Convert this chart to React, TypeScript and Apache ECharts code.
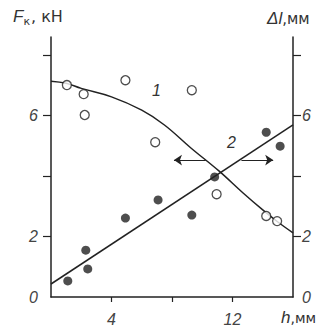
import React, { useEffect, useRef } from "react";
import * as echarts from "echarts";

// Series 1: open circles, F_k (kN) vs h (mm)
const xOpen = [1.05, 2.16, 2.23, 4.92, 6.89, 9.31, 10.95, 14.23, 14.95];
const fOpen = [7.01, 6.71, 6.02, 7.17, 5.12, 6.84, 3.4, 2.68, 2.51];
// Series 2: filled circles, Δl (mm) vs h (mm)
const xFilled = [1.11, 2.3, 2.43, 4.92, 7.08, 9.31, 10.82, 14.23, 15.15];
const dlFilled = [0.53, 1.55, 0.93, 2.61, 3.21, 2.71, 3.97, 5.45, 4.99];
// Curve 1 (fit)
const curveX = [0, 1, 2, 4, 6, 7.5, 9.25, 11.1, 12.7, 14, 15, 16];
const curveF = [7.14, 7.07, 6.9, 6.62, 6.18, 5.69, 4.93, 4.17, 3.44, 2.88, 2.48, 2.12];
// Line 2 (fit)
const lineX = [0, 16];
const lineDl = [0.43, 5.69];
// Arrows
const arrowLeft = [[10.23, 4.53], [8.13, 4.53]];
const arrowRight = [[12.59, 4.53], [14.69, 4.53]];
// Ticks and labels
const yTicks = [2, 4, 6, 8];
const yLabels = [0, 2, 6];
const xTicks = [4, 8, 12];
const xLabels = [4, 12];

const ink = "#222";
const labelColor = "#444";

export default function App() {
  const ref = useRef<HTMLDivElement>(null);
  useEffect(() => {
    if (!ref.current) return;
    const chart = echarts.init(ref.current, undefined, { renderer: "svg" });
    const numLabel = {
      fontFamily: "Liberation Sans",
      fontStyle: "italic" as const,
      fontSize: 16,
      color: labelColor,
    };
    const yAxisBase = (pos: "left" | "right") => ({
      type: "value" as const,
      position: pos,
      min: 0,
      max: 8.6,
      interval: 2,
      splitLine: { show: false },
      axisLine: { show: true, onZero: false, lineStyle: { color: ink, width: 1.5 } },
      axisTick: { show: true, customValues: yTicks, length: 8, lineStyle: { color: ink, width: 1.2 } },
      axisLabel: { ...numLabel, customValues: yLabels, margin: pos === "left" ? 13 : 9 },
    });
    chart.setOption({
      animation: false,
      backgroundColor: "#fff",
      grid: { left: 51, right: 38, top: 37, bottom: 31 },
      xAxis: {
        type: "value",
        min: 0,
        max: 16,
        interval: 4,
        splitLine: { show: false },
        axisLine: { show: true, lineStyle: { color: ink, width: 1.5 } },
        axisTick: { show: true, customValues: xTicks, length: 5, lineStyle: { color: ink, width: 1.2 } },
        axisLabel: { ...numLabel, customValues: xLabels, margin: 14 },
      },
      yAxis: [yAxisBase("left"), yAxisBase("right")],
      graphic: [
        {
          type: "text",
          left: 13,
          top: 8,
          style: {
            text: "{i|F}{s|к}{n|, кН}",
            rich: {
              i: { fontFamily: "Liberation Sans", fontStyle: "italic", fontSize: 17, fill: "#333" },
              s: { fontFamily: "DejaVu Sans", fontSize: 11, fill: "#333", padding: [9, 1, 0, 0] },
              n: { fontFamily: "DejaVu Sans", fontSize: 16, fill: "#333" },
            },
          },
        },
        {
          type: "text",
          left: 267,
          top: 10,
          style: {
            text: "{i|Δl}{n|,мм}",
            rich: {
              i: { fontFamily: "Liberation Sans", fontStyle: "italic", fontSize: 17, fill: "#333" },
              n: { fontFamily: "DejaVu Sans", fontSize: 15, fill: "#333" },
            },
          },
        },
        {
          type: "text",
          left: 281,
          top: 309,
          style: {
            text: "{i|h}{n|,мм}",
            rich: {
              i: { fontFamily: "Liberation Sans", fontStyle: "italic", fontSize: 17, fill: "#333" },
              n: { fontFamily: "DejaVu Sans", fontSize: 14, fill: "#333" },
            },
          },
        },
        {
          type: "text",
          left: 152,
          top: 82,
          style: { text: "1", fontFamily: "Liberation Sans", fontStyle: "italic", fontSize: 16, fill: "#333" },
        },
        {
          type: "text",
          left: 227,
          top: 134,
          style: { text: "2", fontFamily: "Liberation Sans", fontStyle: "italic", fontSize: 16, fill: "#333" },
        },
      ],
      series: [
        {
          type: "line",
          data: curveX.map((x, i) => [x, curveF[i]]),
          smooth: 0.4,
          showSymbol: false,
          symbol: "none",
          lineStyle: { color: ink, width: 1.5 },
          z: 2,
        },
        {
          type: "line",
          yAxisIndex: 1,
          data: lineX.map((x, i) => [x, lineDl[i]]),
          showSymbol: false,
          symbol: "none",
          lineStyle: { color: ink, width: 1.5 },
          z: 2,
        },
        {
          type: "scatter",
          data: xOpen.map((x, i) => [x, fOpen[i]]),
          symbol: "circle",
          symbolSize: 9,
          itemStyle: { color: "#fff", borderColor: ink, borderWidth: 1.3 },
          z: 3,
        },
        {
          type: "scatter",
          yAxisIndex: 1,
          data: xFilled.map((x, i) => [x, dlFilled[i]]),
          symbol: "circle",
          symbolSize: 9,
          itemStyle: { color: ink },
          z: 3,
        },
        {
          type: "lines",
          coordinateSystem: "cartesian2d",
          data: [{ coords: arrowLeft }, { coords: arrowRight }],
          symbol: ["none", "arrow"],
          symbolSize: 8,
          lineStyle: { color: ink, width: 1.2, opacity: 1 },
          z: 3,
        },
      ],
    });
    return () => chart.dispose();
  }, []);
  return (
    <div
      ref={ref}
      style={{ position: "fixed", left: 0, top: 0, width: 331, height: 328, background: "#fff" }}
    />
  );
}
